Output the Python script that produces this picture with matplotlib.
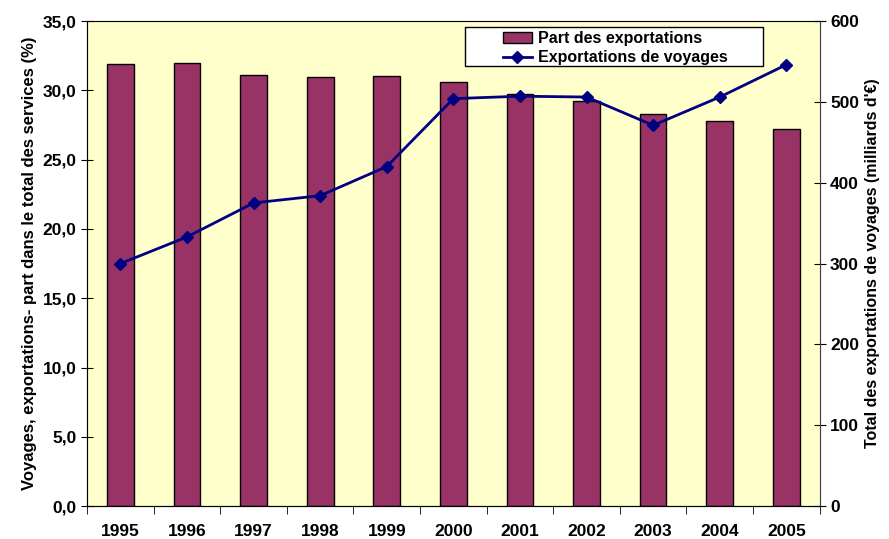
import matplotlib
matplotlib.use("Agg")
from matplotlib import pyplot as plt
from matplotlib.patches import Rectangle
from matplotlib.ticker import FuncFormatter
import numpy as np

plt.rcParams['font.family'] = ['Liberation Sans', 'DejaVu Sans']
plt.rcParams['font.weight'] = 'bold'

years = ['1995', '1996', '1997', '1998', '1999', '2000', '2001', '2002', '2003', '2004', '2005']
part_exportations = [31.9, 32.0, 31.1, 30.95, 31.05, 30.6, 29.75, 29.2, 28.3, 27.8, 27.2]
exportations_voyages = [300, 333, 375, 384, 420, 504, 507, 506, 471, 506, 546]

fig = plt.figure(figsize=(8.89, 5.39), dpi=100)
ax = fig.add_axes([0.098, 0.061, 0.824, 0.900])
ax.set_facecolor('#FFFFCC')

x = np.arange(len(years))
bars = ax.bar(x, part_exportations, width=0.4, color='#993366', edgecolor='#000000',
              linewidth=1.0, label='Part des exportations', zorder=2)
ax.set_xlim(-0.5, len(years) - 0.5)
ax.set_ylim(0, 35)
ax.set_yticks(np.arange(0, 36, 5))
ax.yaxis.set_major_formatter(FuncFormatter(lambda v, p: '{:.1f}'.format(v).replace('.', ',')))
ax.set_xticks(x)
ax.set_xticklabels(years)
ax.set_xticks(np.arange(-0.5, len(years), 1), minor=True)
ax.tick_params(axis='x', which='major', length=0, pad=13, labelsize=12.5)
ax.tick_params(axis='x', which='minor', length=6, direction='out', color='#000000')
ax.tick_params(axis='y', direction='inout', length=8, labelsize=12.5)
ax.set_ylabel('Voyages, exportations- part dans le total des services (%)', fontsize=12, fontweight='bold')

for s in ['top', 'right']:
    ax.spines[s].set_color('#808080')
ax.spines['left'].set_color('#404040')
ax.spines['bottom'].set_color('#000000')

ax2 = ax.twinx()
line, = ax2.plot(x, exportations_voyages, color='#000080', linewidth=2, marker='D',
                 markersize=6, label='Exportations de voyages', zorder=3)
ax2.set_ylim(0, 600)
ax2.set_yticks(np.arange(0, 601, 100))
ax2.tick_params(axis='y', direction='inout', length=8, labelsize=12.5)
ax2.set_ylabel('Total des exportations de voyages (milliards d\'€)', fontsize=11.5, fontweight='bold')
ax2.spines['right'].set_color('#404040')

# legend box drawn separately so the entries can sit inset like the original
ax2.add_patch(Rectangle((0.5157, 0.907), 0.4066, 0.0804, transform=ax2.transAxes,
                        facecolor='white', edgecolor='black', linewidth=1.0, zorder=4))
leg = ax2.legend([bars, line], ['Part des exportations', 'Exportations de voyages'],
                 loc='upper left', bbox_to_anchor=(0.5675, 0.9785), frameon=False,
                 fontsize=11.5, borderpad=0, labelspacing=0.25, handlelength=1.8,
                 handletextpad=0.4, borderaxespad=0)
leg.set_zorder(5)

plt.savefig('out.png', dpi=100)
